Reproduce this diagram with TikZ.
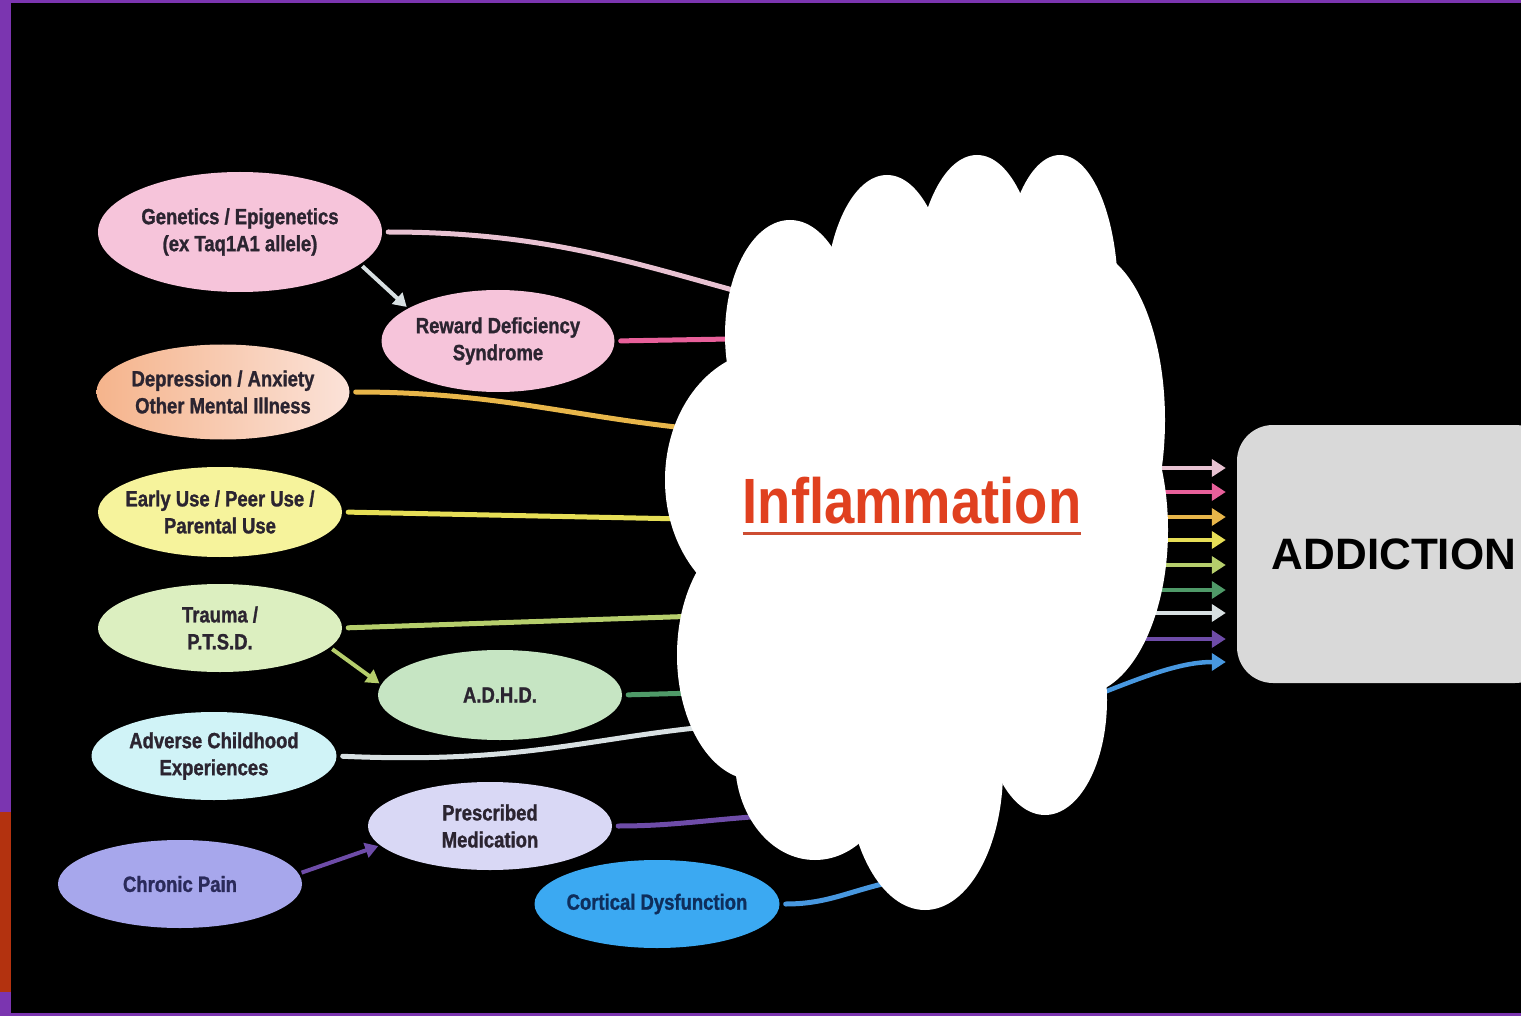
\documentclass[tikz,border=0pt]{standalone}
\usepackage{fontspec}
\setmainfont{Liberation Sans}
\newfontfamily\condfont[FakeStretch=0.85]{Liberation Sans}
\newfontfamily\heavyfont[FakeStretch=0.84, FakeBold=1.2]{Liberation Sans}
\usepackage{xcolor}
\usetikzlibrary{shapes.geometric,arrows.meta,positioning,calc}

% frame and fills
\definecolor{framepurple}{HTML}{7B35B0}
\definecolor{framerust}{HTML}{B3320F}
\definecolor{pinkfill}{HTML}{F6C4DA}
\definecolor{peachleft}{HTML}{F5B48C}
\definecolor{peachright}{HTML}{FBE2D8}
\definecolor{yellowfill}{HTML}{F6F39C}
\definecolor{limefill}{HTML}{DCEFC0}
\definecolor{greenfill}{HTML}{C6E5C3}
\definecolor{cyanfill}{HTML}{D0F3F7}
\definecolor{lavenderfill}{HTML}{D9D8F5}
\definecolor{periwinklefill}{HTML}{A7A7EC}
\definecolor{bluefill}{HTML}{3BA9F2}
\definecolor{boxgray}{HTML}{D9D9D9}
\definecolor{inflred}{HTML}{E0401F}
\definecolor{inkdark}{HTML}{2B2430}
\definecolor{navyink}{HTML}{2A2A5A}
\definecolor{blueink}{HTML}{0E2E5C}
% connector colours
\definecolor{lnpalepink}{HTML}{E8C2D2}
\definecolor{lnrose}{HTML}{E8609A}
\definecolor{lnamber}{HTML}{E8B64A}
\definecolor{lnlemon}{HTML}{E6DE56}
\definecolor{lnolive}{HTML}{B6CE6C}
\definecolor{lnleaf}{HTML}{4F9A68}
\definecolor{lnsilver}{HTML}{D8E0E2}
\definecolor{lnviolet}{HTML}{6E4CA8}
\definecolor{lnsky}{HTML}{4898E0}

\begin{document}
\begin{tikzpicture}[x=1pt, y=-1pt,
    factor/.style={ellipse, minimum width=244pt, minimum height=88pt, inner xsep=-20pt, inner ysep=0pt, align=center, text=inkdark, font=\heavyfont\bfseries\fontsize{22}{27}\selectfont},
    link/.style={line width=5pt, line cap=round, shorten <=6pt},
    push/.style={line width=4pt, -{Triangle[length=13pt,width=15pt]}, shorten <=3pt, shorten >=2pt},
    outarrow/.style={line width=4.5pt, -{Triangle[length=14pt,width=17pt]}, shorten >=11pt},
    goal/.style={rectangle, rounded corners=36pt, fill=boxgray, minimum width=314pt, minimum height=258pt, font=\bfseries\fontsize{44}{50}\selectfont, text=black}
  ]
    \useasboundingbox (0,0) rectangle (1521,1016);
    \clip (0,0) rectangle (1521,1016);
    % background and frame
    \fill[black] (0,0) rectangle (1521,1016);
    \fill[framepurple] (0,0) rectangle (1521,3);
    \fill[framepurple] (0,0) rectangle (11,1016);
    \fill[framepurple] (0,1013) rectangle (1521,1016);
    \fill[framerust] (0,812) rectangle (11,992);

    % risk factors
    \node[factor, fill=pinkfill, minimum width=284pt, minimum height=120pt] (gen) at (240,232) {Genetics / Epigenetics\\(ex Taq1A1 allele)};
    \node[factor, fill=pinkfill, minimum width=233pt, minimum height=102pt] (rds) at (498,341) {Reward Deficiency\\Syndrome};
    \node[factor, left color=peachleft, right color=peachright, minimum width=253pt, minimum height=95pt] (dep) at (223,392) {Depression / Anxiety\\Other Mental Illness};
    \node[factor, fill=yellowfill, minimum height=90pt] (early) at (220,512) {Early Use / Peer Use /\\Parental Use};
    \node[factor, fill=limefill] (trauma) at (220,628) {Trauma /\\P.T.S.D.};
    \node[factor, fill=greenfill, minimum height=90pt] (adhd) at (500,695) {A.D.H.D.};
    \node[factor, fill=cyanfill, minimum width=245pt] (adv) at (214,756) {Adverse Childhood\\Experiences};
    \node[factor, fill=lavenderfill] (presc) at (490,826) {Prescribed\\Medication};
    \node[factor, fill=periwinklefill, text=navyink] (pain) at (180,884) {Chronic Pain};
    \node[factor, fill=bluefill, text=blueink, minimum width=245pt] (cort) at (657,904) {Cortical Dysfunction};

    \node[goal] (addiction) at (1394,554) {ADDICTION};

    % ends under the cloud
    \coordinate (g1) at (740,292);
    \coordinate (r1) at (730,339);
    \coordinate (d1) at (705,430);
    \coordinate (e1) at (685,519);
    \coordinate (t1) at (700,616);
    \coordinate (h1) at (695,693);
    \coordinate (a1) at (705,727);
    \coordinate (p1) at (765,816);
    \coordinate (c1) at (900,880);

    \draw[link, lnpalepink] (gen.east) .. controls +(160,0) and +(-110,-30) .. (g1);
    \draw[link, lnrose] (rds.east) -- (r1);
    \draw[link, lnamber] (dep.east) .. controls +(150,0) and +(-130,-12) .. (d1);
    \draw[link, lnlemon] (early.east) -- (e1);
    \draw[link, lnolive] (trauma.east) -- (t1);
    \draw[link, lnleaf] (adhd.east) -- (h1);
    \draw[link, lnsilver] (adv.east) .. controls +(180,8) and +(-120,12) .. (a1);
    \draw[link, lnviolet] (presc.east) .. controls +(60,0) and +(-60,4) .. (p1);
    \draw[link, lnsky] (cort.east) .. controls +(50,0) and +(-50,10) .. (c1);

    % factor leads to factor
    \draw[push, lnsilver] (gen.-15) -- (rds.160);
    \draw[push, lnolive] (trauma.-10) -- (adhd.175);
    \draw[push, lnviolet] (pain.5) -- (presc.190);

    % into addiction
    \foreach \y/\c in {468/lnpalepink, 492/lnrose, 517/lnamber, 540/lnlemon, 565/lnolive, 590/lnleaf, 613/lnsilver, 639/lnviolet}{
      \coordinate (src) at (1120,\y);
      \draw[outarrow, \c] (src) -- (src -| addiction.west);
    }
    \coordinate (src) at (1092,697);
    \draw[outarrow, lnsky] (src) .. controls +(55,-22) and +(-55,0) .. ([yshift=-108pt]addiction.west);

    % cloud
    \foreach \cx/\cy/\rx/\ry in {790/335/65pt/115pt, 887/305/62pt/130pt, 977/290/62pt/135pt, 1060/295/58pt/140pt,
        1085/420/80pt/170pt, 1080/530/88pt/165pt, 930/520/220pt/230pt, 770/480/105pt/130pt, 755/655/78pt/125pt,
        815/760/80pt/100pt, 925/770/78pt/140pt, 1045/700/62pt/115pt}
      \fill[white] (\cx,\cy) ellipse [x radius=\rx, y radius=\ry];

    \node[font=\condfont\bfseries\fontsize{64}{70}\selectfont, text=inflred, inner sep=0pt, anchor=base] (infl) at (912,523) {Inflammation};
    \draw[inflred!80!gray, line width=3pt] ([yshift=-10pt]infl.base west) -- ([yshift=-10pt]infl.base east);
  \end{tikzpicture}
\end{document}
